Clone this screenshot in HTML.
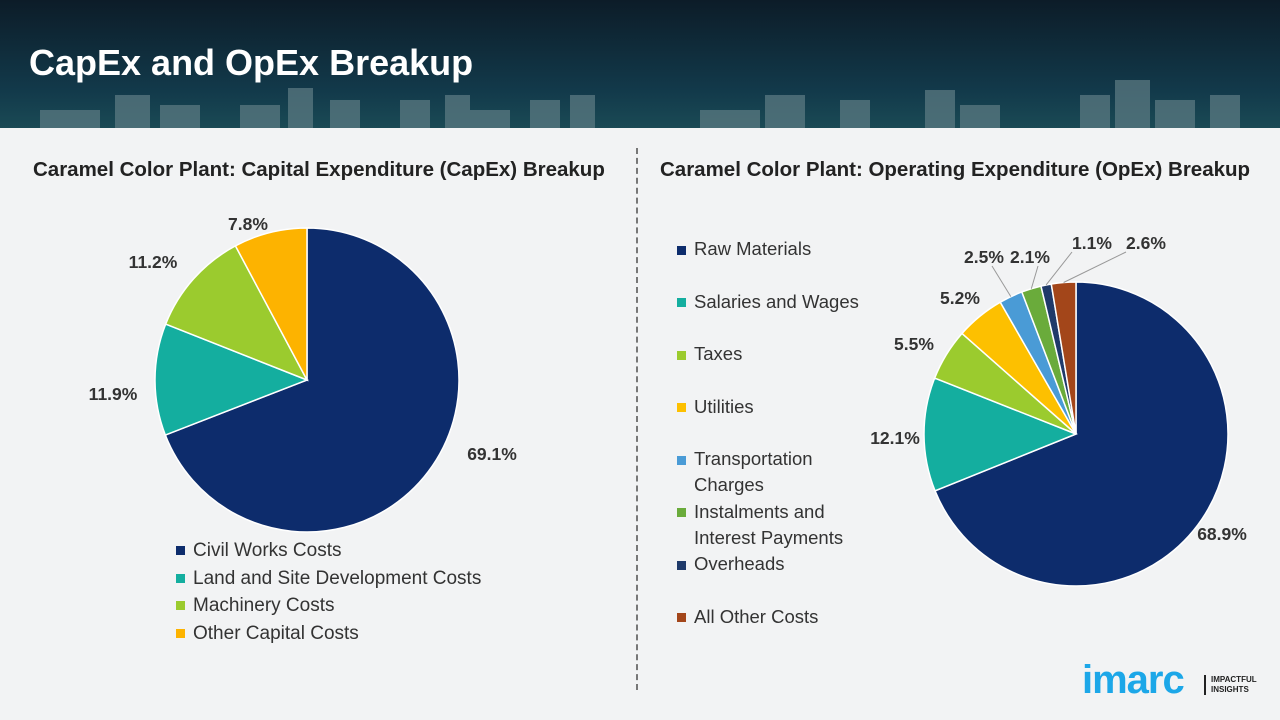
<!DOCTYPE html>
<html><head><meta charset="utf-8"><style>
body{margin:0;width:1280px;height:720px;overflow:hidden;background:#f2f3f4;font-family:"Liberation Sans",sans-serif;position:relative}
#hdr{position:absolute;left:0;top:0;width:1280px;height:128px;background:linear-gradient(#0c1c28,#12394a 70%,#1a4a55)}
#title{position:absolute;left:29px;top:42px;color:#fff;font-size:36px;font-weight:bold}
.sub{position:absolute;top:158px;font-size:20.5px;font-weight:bold;color:#222;white-space:nowrap}
.leg{position:absolute;font-size:18.5px;color:#333}
.leg span{display:inline-block;width:9px;height:9px;margin-right:8px;vertical-align:middle}
#div{position:absolute;left:636px;top:148px;height:542px;border-left:2px dashed #777}
</style></head><body>
<div id="hdr">
<svg width="1280" height="128" style="position:absolute;left:0;top:0">
<g fill="#5f7d85" opacity="0.7">
<rect x="40" y="110" width="60" height="18"/><rect x="115" y="95" width="35" height="33"/><rect x="160" y="105" width="40" height="23"/><rect x="240" y="105" width="40" height="23"/><rect x="288" y="88" width="25" height="40"/><rect x="330" y="100" width="30" height="28"/><rect x="400" y="100" width="30" height="28"/><rect x="445" y="95" width="25" height="33"/><rect x="470" y="110" width="40" height="18"/><rect x="530" y="100" width="30" height="28"/><rect x="570" y="95" width="25" height="33"/>
<rect x="700" y="110" width="60" height="18"/><rect x="765" y="95" width="40" height="33"/><rect x="840" y="100" width="30" height="28"/><rect x="925" y="90" width="30" height="38"/><rect x="960" y="105" width="40" height="23"/><rect x="1080" y="95" width="30" height="33"/><rect x="1115" y="80" width="35" height="48"/><rect x="1155" y="100" width="40" height="28"/><rect x="1210" y="95" width="30" height="33"/></g>
</svg>
<div id="title">CapEx and OpEx Breakup</div>
</div>
<div class="sub" style="left:33px">Caramel Color Plant: Capital Expenditure (CapEx) Breakup</div>
<div class="sub" style="left:660px">Caramel Color Plant: Operating Expenditure (OpEx) Breakup</div>
<div id="div"></div>
<svg id="chart" width="1280" height="720" style="position:absolute;left:0;top:0"></svg>
<div id="legL"></div><div id="legR"></div>
<div style="position:absolute;left:1082px;top:658px;font-size:40px;font-weight:bold;color:#1ca7e8;letter-spacing:-1px">imarc</div>
<div style="position:absolute;left:1204px;top:675px;border-left:2px solid #222;padding-left:5px;font-size:8px;font-weight:bold;color:#222;line-height:10px">IMPACTFUL<br>INSIGHTS</div>
<script>
const capexCats=["Civil Works Costs","Land and Site Development Costs","Machinery Costs","Other Capital Costs"];
const capexVals=[69.1,11.9,11.2,7.8];
const opexCats=["Raw Materials","Salaries and Wages","Taxes","Utilities","Transportation Charges","Instalments and Interest Payments","Overheads","All Other Costs"];
const opexVals=[68.9,12.1,5.5,5.2,2.5,2.1,1.1,2.6];
const capexColors=["#0d2c6c","#14ae9f","#9bcb2e","#fdb300"];
const opexColors=["#0d2c6c","#14ae9f","#9bcb2e","#fdc000","#4a9bd6","#6aab3b","#1f3a6a","#a3461a"];
// label placement (layout, not data)
const capexLabelPos=[[492,454],[113,394],[153,262],[248,224]];
const opexLabelPos=[[1222,534],[895,438],[914,344],[960,298],[984,257],[1030,257],[1092,243],[1146,243]];
const svg=document.getElementById('chart');
const NS="http://www.w3.org/2000/svg";
function pie(vals,colors,cx,cy,r,lp,leaders){
  const tot=vals.reduce((a,b)=>a+b,0);let a0=-Math.PI/2;
  vals.forEach((v,i)=>{
    const a1=a0+v/tot*2*Math.PI;
    const p=document.createElementNS(NS,'path');
    const x0=cx+r*Math.cos(a0),y0=cy+r*Math.sin(a0),x1=cx+r*Math.cos(a1),y1=cy+r*Math.sin(a1);
    p.setAttribute('d',`M${cx},${cy}L${x0},${y0}A${r},${r} 0 ${a1-a0>Math.PI?1:0} 1 ${x1},${y1}Z`);
    p.setAttribute('fill',colors[i]);p.setAttribute('stroke','#fff');p.setAttribute('stroke-width','1.5');
    
    
    svg.appendChild(p);
    const am=(a0+a1)/2;
    const [lx,ly]=lp[i];
    if(leaders&&v<3){const l=document.createElementNS(NS,'line');
      l.setAttribute('x1',cx+r*Math.cos(am));l.setAttribute('y1',cy+r*Math.sin(am));
      l.setAttribute('x2',lx-(lx>cx?20:0)+(lx<cx?8:0));l.setAttribute('y2',ly+9);
      l.setAttribute('stroke','#999');
      
      
      svg.appendChild(l);}
    const t=document.createElementNS(NS,'text');
    t.setAttribute('x',lx);t.setAttribute('y',ly+6);t.setAttribute('text-anchor','middle');
    t.setAttribute('font-size','17.5');t.setAttribute('font-weight','bold');t.setAttribute('fill','#333');
    t.setAttribute('font-family','Liberation Sans, sans-serif');
    t.textContent=v.toFixed(1)+'%';
    
    
    svg.appendChild(t);
    a0=a1;
  });
}
pie(capexVals,capexColors,307,380,152,capexLabelPos,false);
pie(opexVals,opexColors,1076,434,152,opexLabelPos,true);
const legL=document.getElementById('legL');
capexCats.forEach((c,i)=>{const d=document.createElement('div');d.className='leg';
 d.style.left='176px';d.style.top=(540+i*27.5)+'px';d.style.fontSize='19px';
 d.innerHTML=`<span style="background:${capexColors[i]}"></span>${c}`;
 
 
 legL.appendChild(d);});
const legR=document.getElementById('legR');
opexCats.forEach((c,i)=>{const d=document.createElement('div');d.className='leg';
 d.style.left='677px';d.style.top=(236+i*52.5)+'px';d.style.width='185px';d.style.lineHeight='26px';
 d.style.paddingLeft='17px';d.style.textIndent='-17px';
 d.innerHTML=`<span style="background:${opexColors[i]}"></span>${c}`;
 
 
 legR.appendChild(d);});
</script>
</body></html>
